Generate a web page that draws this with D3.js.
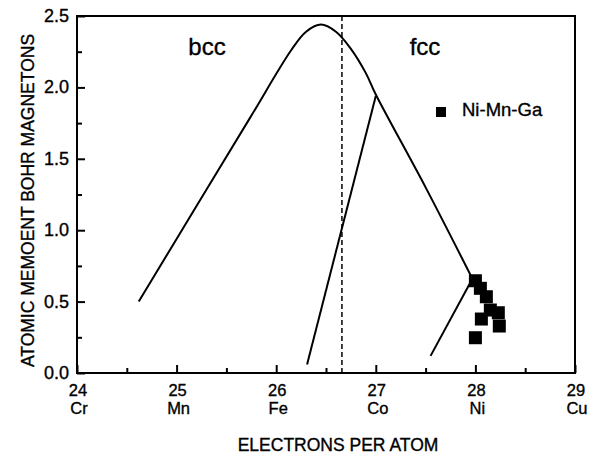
<!DOCTYPE html>
<html><head><meta charset="utf-8">
<script src="https://cdn.jsdelivr.net/npm/d3@7"></script>
<style>body{margin:0;background:#fff}text{font-family:"Liberation Sans",Arial,sans-serif;fill:#000;stroke:#000;stroke-width:0.35px}</style>
</head><body><svg id="c" width="589" height="462"></svg>
<script>
const xTicks = [24, 25, 26, 27, 28, 29];
const elements = ["Cr", "Mn", "Fe", "Co", "Ni", "Cu"];
const yTicks = [0.0, 0.5, 1.0, 1.5, 2.0, 2.5];
const mainCurve = [[24.62,0.50],[25.2,1.17],[25.74,1.79],[26.15,2.26],[26.3,2.39],[26.45,2.44],[26.6,2.39],[26.75,2.27],[26.9,2.10],[27.0,1.95],[27.5,1.30],[27.97,0.66]];
const feCoLine = [[26.31,0.06],[27.0,1.94]];
const niLine = [[27.55,0.12],[27.97,0.66]];
const niMnGaX = [28.00, 28.05, 28.11, 28.15, 28.23, 28.06, 28.24, 28.00];
const niMnGaY = [0.646, 0.593, 0.534, 0.441, 0.422, 0.378, 0.329, 0.247];
const dashedX = 26.66;

const svg = d3.select("#c");
const L=77, R=575, T=16, B=373;
const x = d3.scaleLinear().domain([24,29]).range([L,R]);
const y = d3.scaleLinear().domain([0,2.5]).range([B,T]);

// frame
svg.append("rect").attr("x",L).attr("y",T).attr("width",R-L).attr("height",B-T)
  .attr("fill","none").attr("stroke","#000").attr("stroke-width",2);

// ticks inward
const xAx = svg.append("g").attr("transform",`translate(0,${B})`)
  .call(d3.axisBottom(x).tickValues(d3.range(24,29.01,0.5)).tickSize(-8).tickFormat(""));
xAx.selectAll(".tick line").attr("stroke-width",2).attr("y2", d => Number.isInteger(d) ? -8 : -5);
xAx.select(".domain").remove();
const yAx = svg.append("g").attr("transform",`translate(${L},0)`)
  .call(d3.axisLeft(y).tickValues(d3.range(0,2.51,0.25)).tickSize(-8).tickFormat(""));
yAx.selectAll(".tick line").attr("stroke-width",2).attr("x2", (d,i) => i%2===0 ? 8 : 5);
yAx.select(".domain").remove();

// tick labels
xTicks.forEach((t,i)=>{
  svg.append("text").attr("x",x(t)+1).attr("y",B+22.5).attr("text-anchor","middle")
    .attr("font-size",16.5).text(t);
  svg.append("text").attr("x",x(t)+2).attr("y",B+41).attr("text-anchor","middle")
    .attr("font-size",16.5).text(elements[i]);
});
yTicks.forEach(t=>{
  svg.append("text").attr("x",L-8).attr("y",y(t)+6).attr("text-anchor","end")
    .attr("font-size",18).text(t.toFixed(1));
});

// axis titles
svg.append("text").attr("x",338).attr("y",451).attr("text-anchor","middle")
  .attr("font-size",17.5).text("ELECTRONS PER ATOM");
svg.append("text").attr("transform",`translate(34,${(T+B)/2+6}) rotate(-90)`)
  .attr("text-anchor","middle").attr("font-size",17.5).text("ATOMIC MEMOENT BOHR MAGNETONS");

// dashed line
svg.append("line").attr("x1",x(dashedX)).attr("x2",x(dashedX)).attr("y1",T).attr("y2",B)
  .attr("stroke","#000").attr("stroke-width",1.5).attr("stroke-dasharray","5,3");

const line = d3.line().x(d=>x(d[0])).y(d=>y(d[1]));
svg.append("path").attr("d",line.curve(d3.curveCatmullRom.alpha(0.5))(mainCurve))
  .attr("fill","none").attr("stroke","#000").attr("stroke-width",2);
const lin = d3.line().x(d=>x(d[0])).y(d=>y(d[1]));
[feCoLine, niLine].forEach(l=>svg.append("path").attr("d",lin(l))
  .attr("fill","none").attr("stroke","#000").attr("stroke-width",2));

// squares
const s=13;
niMnGaX.forEach((v,i)=>{
  svg.append("rect").attr("x",x(v)-s/2).attr("y",y(niMnGaY[i])-s/2)
    .attr("width",s).attr("height",s).attr("fill","#000");
});

// labels
svg.append("text").attr("x",207).attr("y",55).attr("text-anchor","middle").attr("font-size",24).text("bcc");
svg.append("text").attr("x",425).attr("y",55).attr("text-anchor","middle").attr("font-size",24).text("fcc");
svg.append("rect").attr("x",436).attr("y",107).attr("width",10).attr("height",10).attr("fill","#000");
svg.append("text").attr("x",462).attr("y",116).attr("font-size",18.5).text("Ni-Mn-Ga");
</script></body></html>
